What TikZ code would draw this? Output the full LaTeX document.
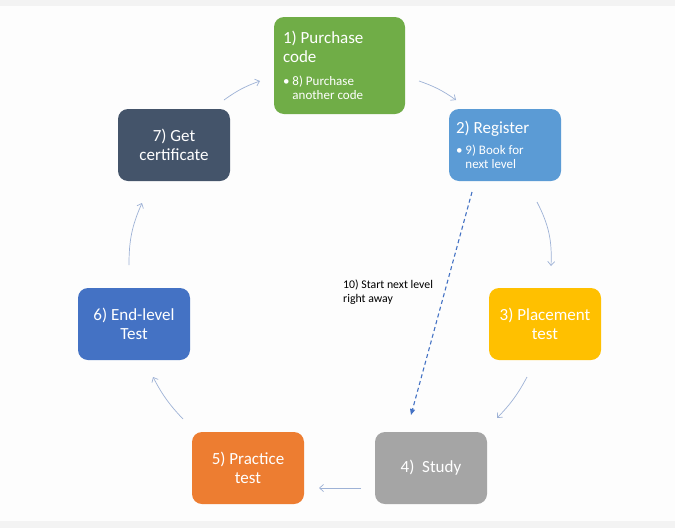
\documentclass[tikz,border=0pt]{standalone}
\usepackage{fontspec}
\setmainfont{Carlito}
\usetikzlibrary{arrows.meta}
\definecolor{cgreen}{HTML}{70AD47}
\definecolor{cregister}{HTML}{5B9BD5}
\definecolor{cgold}{HTML}{FFC000}
\definecolor{cgray}{HTML}{A5A5A5}
\definecolor{corange}{HTML}{ED7D31}
\definecolor{cblue}{HTML}{4472C4}
\definecolor{cdark}{HTML}{44546A}
\definecolor{arrowc}{HTML}{9EB2D6}
\definecolor{bandc}{HTML}{F3F3F3}
\definecolor{bgc}{HTML}{FDFDFD}
\newcommand{\fixspaces}{\rightskip=0pt plus 1fil\parfillskip=0pt plus 1fil\spaceskip=0.23em\xspaceskip=0.23em}
\begin{document}
\begin{tikzpicture}[x=1pt,y=-1pt,
  box/.style={rounded corners=10pt, text=white, minimum width=112pt, minimum height=72pt,
    inner sep=0pt, align=center, font=\fontsize{17}{19}\selectfont},
  flow/.style={draw=arrowc, line width=0.7pt, -{Straight Barb[length=4pt,width=7pt]}},
  dasharrow/.style={draw=cblue, line width=1.1pt, dash pattern=on 4pt off 3pt,
    -{Triangle[length=6pt,width=5pt]}},
  lbl/.style={font=\fontsize{11.8}{14}\selectfont, align=left, inner sep=0pt, anchor=north west}]
\fill[bgc] (0,0) rectangle (675,528);
\fill[bandc] (0,0) rectangle (675,6);
\fill[bandc] (0,521) rectangle (675,528);
\useasboundingbox (0,0) rectangle (675,528);

\node[box, fill=cgreen, minimum width=131pt, minimum height=97pt, text width=113pt, align=left] (n1) at (339.5,65.5)
  {{\fontsize{17}{19}\selectfont\fixspaces 1) Purchase\par code\par}\vspace{8pt}
   {\fontsize{13}{14.7}\selectfont\fixspaces \textbullet\hspace{3pt}8) Purchase\par\hphantom{\textbullet\hspace{3pt}}another code\par}};
\node[box, fill=cregister, text width=98pt, align=left] (n2) at (505,145)
  {{\fontsize{17}{19}\selectfont\fixspaces 2) Register\par}\vspace{6pt}
   {\fontsize{13}{14.7}\selectfont\fixspaces \textbullet\hspace{3pt}9) Book for\par\hphantom{\textbullet\hspace{3pt}}next level\par}};
\node[box, fill=cgold] (n3) at (545,324) {3) Placement\\test};
\node[box, fill=cgray] (n4) at (431,468) {4)\ \ Study};
\node[box, fill=corange] (n5) at (248,468) {5) Practice\\test};
\node[box, fill=cblue] (n6) at (134,324) {6) End-level\\Test};
\node[box, fill=cdark] (n7) at (174,145) {7) Get\\certificate};

\coordinate (a1s) at (419,81);  \coordinate (a1e) at (456,100);
\coordinate (a2s) at (537,202); \coordinate (a2e) at (551,266);
\coordinate (a3s) at (527,377); \coordinate (a3e) at (497,418);
\coordinate (a4s) at (361,488); \coordinate (a4e) at (319,488);
\coordinate (a5s) at (183,419); \coordinate (a5e) at (153,377);
\coordinate (a6s) at (129,265); \coordinate (a6e) at (142,203);
\coordinate (a7s) at (224,100); \coordinate (a7e) at (260,81);
\coordinate (ds) at (472,192);  \coordinate (de) at (411,415);

\draw[flow] (a1s) to[bend left=8] (a1e);
\draw[flow] (a2s) to[bend left=15] (a2e);
\draw[flow] (a3s) to[bend left=8] (a3e);
\draw[flow] (a4s) -- (a4e);
\draw[flow] (a5s) to[bend left=8] (a5e);
\draw[flow] (a6s) to[bend left=12] (a6e);
\draw[flow] (a7s) to[bend left=8] (a7e);
\draw[dasharrow] (ds) -- (de);

\node[lbl] (l10) at (343,280) {10) Start next level\\right away};
\end{tikzpicture}
\end{document}
